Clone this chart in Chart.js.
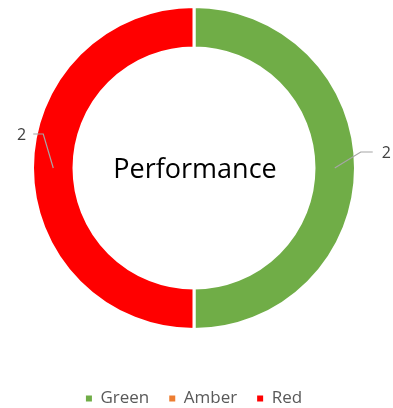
<!DOCTYPE html>
<html lang="en">
<head>
    <meta charset="UTF-8">
    <title>Performance</title>
    <script src="https://cdn.jsdelivr.net/npm/chart.js"></script>
    <style>
        html, body { margin: 0; padding: 0; background: #FFFFFF; }
        .chart-container { position: relative; width: 393px; height: 408px; }
    </style>
</head>
<body>
    <div class="chart-container">
        <canvas id="performanceChart"></canvas>
    </div>

    <script>
        const categories = ['Green', 'Amber', 'Red'];
        const counts = [2, 0, 2];
        const sliceColors = ['#70AD47', '#ED7D31', '#FF0000'];
        const centerTitle = 'Performance';

        // leader line shape per side: elbow, end of line, text offset
        const leaderStyle = {
            right: { elbow: [26, -16], end: [38, -16], text: 9 },
            left: { elbow: [-10, -34], end: [-20, -34], text: -7 }
        };

        const sliceLabels = {
            id: 'sliceLabels',
            afterDatasetsDraw(chart) {
                const ctx = chart.ctx;
                const meta = chart.getDatasetMeta(0);
                const values = chart.data.datasets[0].data;
                ctx.save();
                meta.data.forEach((arc, i) => {
                    if (!values[i]) return;
                    const p = arc.getProps(['x', 'y', 'startAngle', 'endAngle', 'innerRadius', 'outerRadius'], true);
                    const mid = (p.startAngle + p.endAngle) / 2;
                    const r = (p.innerRadius + p.outerRadius) / 2;
                    const sx = p.x + Math.cos(mid) * r;
                    const sy = p.y + Math.sin(mid) * r;
                    const s = Math.cos(mid) >= 0 ? leaderStyle.right : leaderStyle.left;
                    ctx.strokeStyle = '#A6A6A6';
                    ctx.lineWidth = 1.2;
                    ctx.beginPath();
                    ctx.moveTo(sx, sy);
                    ctx.lineTo(sx + s.elbow[0], sy + s.elbow[1]);
                    ctx.lineTo(sx + s.end[0], sy + s.end[1]);
                    ctx.stroke();
                    ctx.fillStyle = '#404040';
                    ctx.font = '16px "Open Sans", sans-serif';
                    ctx.textBaseline = 'middle';
                    ctx.textAlign = s.text > 0 ? 'left' : 'right';
                    ctx.fillText(String(values[i]), sx + s.end[0] + s.text, sy + s.end[1] + 1);
                });
                const a = chart.chartArea;
                ctx.fillStyle = '#000000';
                ctx.font = '27px "Open Sans", sans-serif';
                ctx.textAlign = 'center';
                ctx.textBaseline = 'alphabetic';
                ctx.fillText(centerTitle, (a.left + a.right) / 2 + 1, (a.top + a.bottom) / 2 + 9.5);
                ctx.restore();
            }
        };

        new Chart(document.getElementById('performanceChart'), {
            type: 'doughnut',
            data: {
                labels: categories,
                datasets: [{
                    data: counts,
                    backgroundColor: sliceColors,
                    borderColor: '#FFFFFF',
                    borderWidth: 3,
                    hoverOffset: 0,
                    radius: 161.5,
                    cutout: '74.3%'
                }]
            },
            options: {
                responsive: true,
                maintainAspectRatio: false,
                animation: false,
                layout: {
                    padding: { top: 8, left: 0, right: 5, bottom: -9 }
                },
                plugins: {
                    legend: {
                        position: 'bottom',
                        title: {
                            display: true,
                            text: '',
                            font: { size: 10, lineHeight: 1 },
                            padding: { top: 0, bottom: 32 }
                        },
                        labels: {
                            boxWidth: 6,
                            boxHeight: 6,
                            padding: 20,
                            color: '#595959',
                            font: { family: '"Open Sans", sans-serif', size: 17 },
                            generateLabels(chart) {
                                const items = Chart.overrides.doughnut.plugins.legend.labels.generateLabels(chart);
                                items.forEach(item => { item.lineWidth = 0; });
                                return items;
                            }
                        }
                    },
                    tooltip: { enabled: false }
                }
            },
            plugins: [sliceLabels]
        });
    </script>
</body>
</html>
